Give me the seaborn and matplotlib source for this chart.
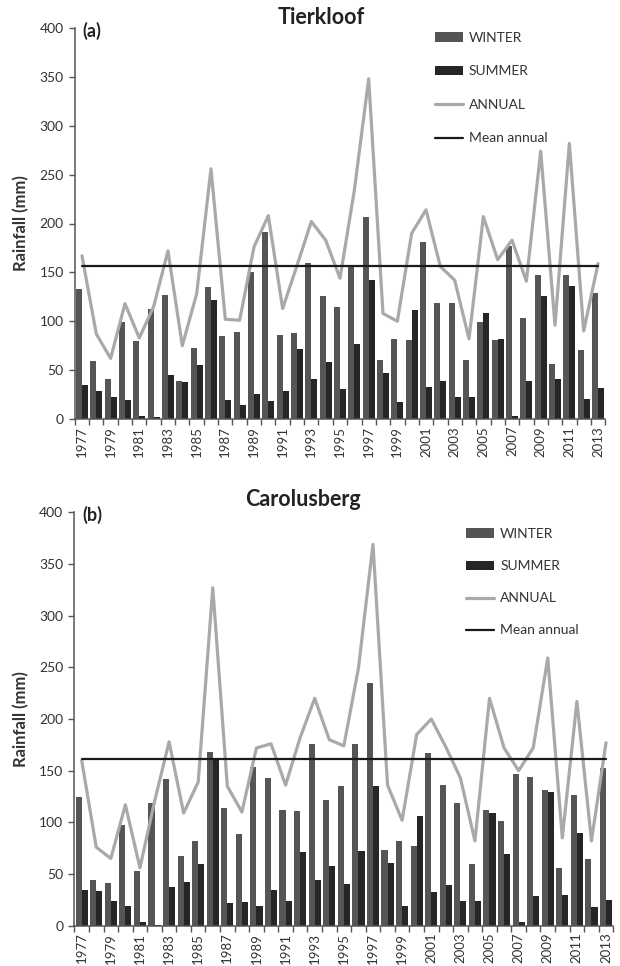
import numpy as np
import pandas as pd
import matplotlib
matplotlib.use("Agg")
import matplotlib.pyplot as plt
import seaborn as sns
from matplotlib.patches import Patch
from matplotlib.lines import Line2D

years = list(range(1977, 2014))

tier_winter = [133, 59, 41, 99, 80, 113, 127, 39, 73, 135, 85, 89, 150, 191, 86, 88, 160, 126, 115, 156,
               207, 60, 82, 81, 181, 119, 119, 60, 99, 81, 177, 103, 147, 56, 147, 71, 129]
tier_summer = [35, 29, 22, 19, 3, 2, 45, 38, 55, 122, 19, 14, 26, 18, 29, 72, 41, 58, 31, 77,
               142, 47, 17, 111, 33, 39, 23, 23, 108, 82, 3, 39, 126, 41, 136, 20, 32]
tier_annual = [167, 87, 62, 118, 83, 115, 172, 75, 128, 256, 102, 101, 176, 208, 113, 157, 202, 183, 144, 234,
               348, 108, 100, 190, 214, 156, 142, 82, 207, 163, 183, 141, 274, 96, 282, 90, 159]
tier_mean = 157

caro_winter = [125, 44, 41, 97, 53, 119, 142, 67, 82, 168, 114, 89, 154, 143, 112, 111, 176, 122, 135, 176,
               235, 73, 82, 77, 167, 136, 119, 60, 112, 101, 147, 144, 131, 56, 126, 65, 153]
caro_summer = [35, 34, 24, 19, 4, 1, 37, 42, 60, 161, 22, 23, 19, 35, 24, 71, 44, 58, 40, 72,
               135, 61, 19, 106, 33, 39, 24, 24, 109, 69, 4, 29, 129, 30, 90, 18, 25]
caro_annual = [160, 76, 65, 117, 56, 120, 178, 109, 139, 327, 135, 110, 172, 176, 136, 182, 220, 180, 174, 249,
               369, 136, 102, 185, 200, 173, 143, 82, 220, 172, 150, 172, 259, 85, 217, 82, 177]
caro_mean = 161

seasons = ["WINTER", "SUMMER"]
y_ticks = [0, 50, 100, 150, 200, 250, 300, 350, 400]

sns.set_style("ticks")
plt.rcParams["font.family"] = ["Lato", "DejaVu Sans"]

C_WIN = "#555555"
C_SUM = "#262626"
C_ANN = "#a9a9a9"
C_MEAN = "#1a1a1a"
C_TXT = "#333333"

fig = plt.figure(figsize=(6.2, 9.66), dpi=100)
W, H = 620.0, 966.0
ax_a = fig.add_axes([74.8 / W, 1 - 419 / H, 530.4 / W, 391 / H])
ax_b = fig.add_axes([74.4 / W, 1 - 925.7 / H, 538.9 / W, 413.4 / H])


def draw(ax, winter, summer, annual, mean, leg_xy, ylab_x, lspace):
    n = len(years)
    df = pd.DataFrame({
        "Year": [str(y) for y in years] * 2,
        "Season": [seasons[0]] * n + [seasons[1]] * n,
        "Rainfall": list(winter) + list(summer),
    })
    sns.barplot(data=df, x="Year", y="Rainfall", hue="Season", hue_order=seasons,
                palette={"WINTER": C_WIN, "SUMMER": C_SUM}, width=0.84, gap=0,
                saturation=1, linewidth=0, legend=False, ax=ax, errorbar=None)
    sns.lineplot(x=np.arange(n), y=annual, color=C_ANN, lw=2.3, ax=ax)
    ax.plot([0, n - 1], [mean, mean], color=C_MEAN, lw=1.6)

    ax.set_xlim(-0.5, n - 0.5)
    ax.set_ylim(0, 400)
    ax.set_yticks(y_ticks)
    ax.set_xticks(range(n))
    ax.set_xticklabels([str(y) if (y - 1977) % 2 == 0 else "" for y in years],
                       rotation=90, fontsize=9.5, color=C_TXT)
    ax.set_xticks(np.arange(-0.5, n, 1.0), minor=True)
    ax.tick_params(axis="x", which="major", length=0, pad=5)
    ax.tick_params(axis="x", which="minor", length=4, width=1, color="#555555", direction="out")
    ax.tick_params(axis="y", length=4, width=1, color="#555555", labelsize=10, labelcolor=C_TXT, pad=4)
    ax.set_xlabel("")
    ax.set_ylabel("Rainfall (mm)", fontsize=12, fontweight="bold", color=C_TXT)
    ax.yaxis.set_label_coords(ylab_x, 0.5)
    for s in ["top", "right"]:
        ax.spines[s].set_visible(False)
    for s in ["left", "bottom"]:
        ax.spines[s].set_color("#555555")
        ax.spines[s].set_linewidth(1.1)

    handles = [
        Patch(facecolor=C_WIN, edgecolor="none", label="WINTER"),
        Patch(facecolor=C_SUM, edgecolor="none", label="SUMMER"),
        Line2D([], [], color=C_ANN, lw=2.3, label="ANNUAL"),
        Line2D([], [], color=C_MEAN, lw=1.6, label="Mean annual"),
    ]
    leg = ax.legend(handles=handles, loc="upper left", bbox_to_anchor=leg_xy, frameon=False,
                    handlelength=2.0, handleheight=0.65, handletextpad=0.45, labelspacing=lspace,
                    borderpad=0, borderaxespad=0, fontsize=10)
    for t in leg.get_texts():
        t.set_color(C_TXT)


draw(ax_a, tier_winter, tier_summer, tier_annual, tier_mean, (0.679, 0.99), -0.085, 1.55)
draw(ax_b, caro_winter, caro_summer, caro_annual, caro_mean, (0.727, 0.962), -0.083, 1.45)

fig.text(321 / W, 1 - 18 / H, "Tierkloof", ha="center", va="center", fontsize=15.5,
         fontweight="bold", color="#222222")
fig.text(303 / W, 1 - 499 / H, "Carolusberg", ha="center", va="center", fontsize=15.5,
         fontweight="bold", color="#222222")
fig.text(82 / W, 1 - 31 / H, "(a)", ha="left", va="center", fontsize=13,
         fontweight="bold", color="#222222")
fig.text(82 / W, 1 - 515 / H, "(b)", ha="left", va="center", fontsize=13,
         fontweight="bold", color="#222222")

fig.savefig("out.png", dpi=100)
